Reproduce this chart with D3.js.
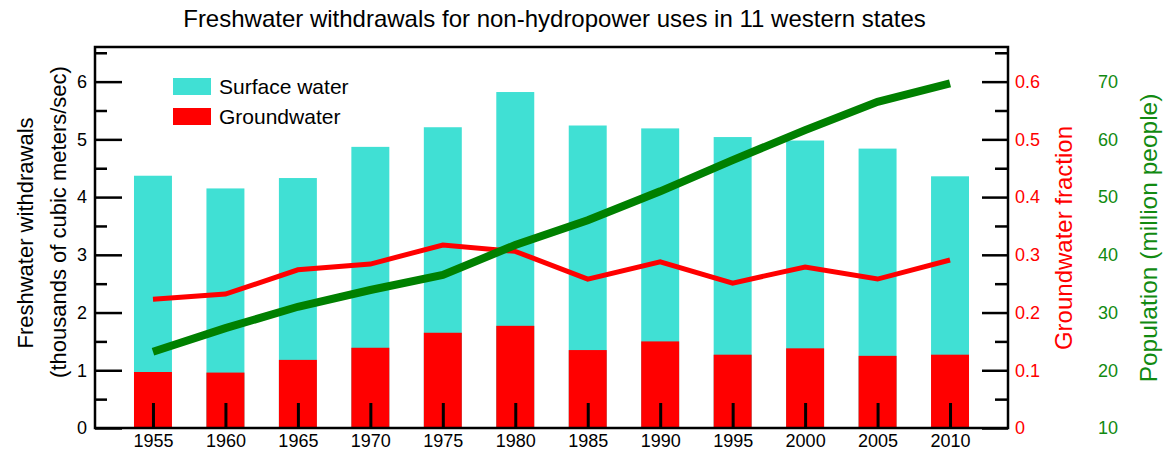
<!DOCTYPE html>
<html>
<head>
<meta charset="utf-8">
<script src="https://cdn.jsdelivr.net/npm/d3@7"></script>
<style>
  body { margin: 0; background: #fff; }
  svg { font-family: "Liberation Sans", Arial, Helvetica, sans-serif; }
</style>
</head>
<body>
<svg id="chart" width="1165" height="451"></svg>
<script>
// data
var years = [1955, 1960, 1965, 1970, 1975, 1980, 1985, 1990, 1995, 2000, 2005, 2010];
var totalWithdrawals = [4.37, 4.15, 4.33, 4.87, 5.21, 5.82, 5.24, 5.19, 5.04, 4.98, 4.84, 4.36];
var groundwater = [0.97, 0.96, 1.18, 1.39, 1.65, 1.77, 1.35, 1.50, 1.27, 1.38, 1.25, 1.27];
var groundFraction = [0.223, 0.232, 0.274, 0.284, 0.317, 0.306, 0.258, 0.288, 0.251, 0.279, 0.258, 0.291];
var population = [23.2, 27.3, 31.0, 33.9, 36.5, 41.7, 46.0, 51.0, 56.4, 61.6, 66.5, 69.7];

var leftTicks = [0, 1, 2, 3, 4, 5, 6];
var fracTicks = [0, 0.1, 0.2, 0.3, 0.4, 0.5, 0.6];
var popTicks = [10, 20, 30, 40, 50, 60, 70];

var rows = years.map(function(yr, i) {
  return {
    year: yr,
    total: totalWithdrawals[i],
    ground: groundwater[i],
    frac: groundFraction[i],
    pop: population[i]
  };
});

// plot frame (window.top is reserved, so prefixed names)
var plotLeft = 95, plotRight = 1008, plotTop = 47, plotBottom = 428;

var svg = d3.select("#chart");

var x = d3.scaleLinear().domain([1951, 2014]).range([plotLeft, plotRight]);
var y = d3.scaleLinear().domain([0, 6.6]).range([plotBottom, plotTop]);
var yFrac = d3.scaleLinear().domain([0, 0.66]).range([plotBottom, plotTop]);
var yPop = d3.scaleLinear().domain([10, 76]).range([plotBottom, plotTop]);

var barW = x(1955 + 1.31) - x(1955 - 1.31);

// bars: surface water (full stack) then groundwater on bottom
svg.append("g").selectAll("rect")
  .data(rows)
  .enter()
  .append("rect")
  .attr("x", function(d) { return x(d.year) - barW / 2; })
  .attr("width", barW)
  .attr("y", function(d) { return y(d.total); })
  .attr("height", function(d) { return y(0) - y(d.total); })
  .attr("fill", "#40e0d4");

svg.append("g").selectAll("rect")
  .data(rows)
  .enter()
  .append("rect")
  .attr("x", function(d) { return x(d.year) - barW / 2; })
  .attr("width", barW)
  .attr("y", function(d) { return y(d.ground); })
  .attr("height", function(d) { return y(0) - y(d.ground); })
  .attr("fill", "#ff0000");

// axes
function styleAxis(g, color) {
  g.select(".domain").remove();
  g.attr("font-size", null).attr("font-family", null);
  g.selectAll(".tick line").attr("stroke", "#000").attr("stroke-width", 2.5);
  g.selectAll(".tick text")
    .attr("fill", color || "#000")
    .style("font-size", "18px");
}

var gLeft = svg.append("g")
  .attr("transform", "translate(" + plotLeft + ",0)")
  .call(d3.axisLeft(y).tickValues(leftTicks).tickSizeInner(-27).tickSizeOuter(0).tickPadding(8)
    .tickFormat(d3.format("d")));
styleAxis(gLeft);

var gLeftMinor = svg.append("g")
  .attr("transform", "translate(" + plotLeft + ",0)")
  .call(d3.axisLeft(y).tickValues(d3.range(0.5, 6.6, 1)).tickSizeInner(-12).tickSizeOuter(0).tickFormat(""));
styleAxis(gLeftMinor);

var gFrac = svg.append("g")
  .attr("transform", "translate(" + plotRight + ",0)")
  .call(d3.axisRight(yFrac).tickValues(fracTicks).tickSizeInner(-26).tickSizeOuter(0).tickPadding(7)
    .tickFormat(function(d) { return d === 0 ? "0" : d3.format(".1f")(d); }));
styleAxis(gFrac, "#ff0000");

var gFracMinor = svg.append("g")
  .attr("transform", "translate(" + plotRight + ",0)")
  .call(d3.axisRight(yFrac).tickValues(d3.range(0.05, 0.66, 0.1)).tickSizeInner(-13).tickSizeOuter(0).tickFormat(""));
styleAxis(gFracMinor);

var gPop = svg.append("g")
  .attr("transform", "translate(1098,0)")
  .call(d3.axisRight(yPop).tickValues(popTicks).tickSize(0).tickPadding(0));
styleAxis(gPop, "#118a11");

var gBottom = svg.append("g")
  .attr("transform", "translate(0," + plotBottom + ")")
  .call(d3.axisBottom(x).tickValues(years).tickSizeInner(-25).tickSizeOuter(0).tickPadding(6)
    .tickFormat(d3.format("d")));
styleAxis(gBottom);
gBottom.selectAll(".tick line").attr("stroke-width", 3);

// lines
var fracLine = d3.line()
  .x(function(d) { return x(d.year); })
  .y(function(d) { return yFrac(d.frac); });

var popLine = d3.line()
  .x(function(d) { return x(d.year); })
  .y(function(d) { return yPop(d.pop); });

svg.append("path")
  .datum(rows)
  .attr("d", fracLine)
  .attr("fill", "none")
  .attr("stroke", "#ff0000")
  .attr("stroke-width", 5);

svg.append("path")
  .datum(rows)
  .attr("d", popLine)
  .attr("fill", "none")
  .attr("stroke", "#008000")
  .attr("stroke-width", 8);

// frame
svg.append("rect")
  .attr("x", plotLeft)
  .attr("y", plotTop)
  .attr("width", plotRight - plotLeft)
  .attr("height", plotBottom - plotTop)
  .attr("fill", "none")
  .attr("stroke", "#000")
  .attr("stroke-width", 2.5);

// legend
var legend = [
  { label: "Surface water", color: "#40e0d4" },
  { label: "Groundwater", color: "#ff0000" }
];
var lg = svg.append("g").selectAll("g")
  .data(legend)
  .enter()
  .append("g")
  .attr("transform", function(d, i) { return "translate(173," + (78 + i * 30) + ")"; });
lg.append("rect").attr("width", 38).attr("height", 17).attr("fill", function(d) { return d.color; });
lg.append("text")
  .attr("x", 46)
  .attr("y", 8.5)
  .attr("dy", "0.35em")
  .style("font-size", "21px")
  .text(function(d) { return d.label; });

// title
svg.append("text")
  .attr("x", (plotLeft + plotRight) / 2 + 3)
  .attr("y", 27)
  .attr("text-anchor", "middle")
  .style("font-size", "24px")
  .text("Freshwater withdrawals for non-hydropower uses in 11 western states");

// axis titles
function vLabel(cx, cy, txt, color, size) {
  svg.append("text")
    .attr("transform", "translate(" + cx + "," + cy + ") rotate(-90)")
    .attr("text-anchor", "middle")
    .attr("dy", "0.35em")
    .attr("fill", color)
    .style("font-size", size + "px")
    .text(txt);
}
vLabel(25, 233, "Freshwater withdrawals", "#000", 22);
vLabel(58, 222, "(thousands of cubic meters/sec)", "#000", 22);
vLabel(1064, 238, "Groundwater fraction", "#ff0000", 24);
vLabel(1148, 238, "Population (million people)", "#118a11", 24.5);
</script>
</body>
</html>
